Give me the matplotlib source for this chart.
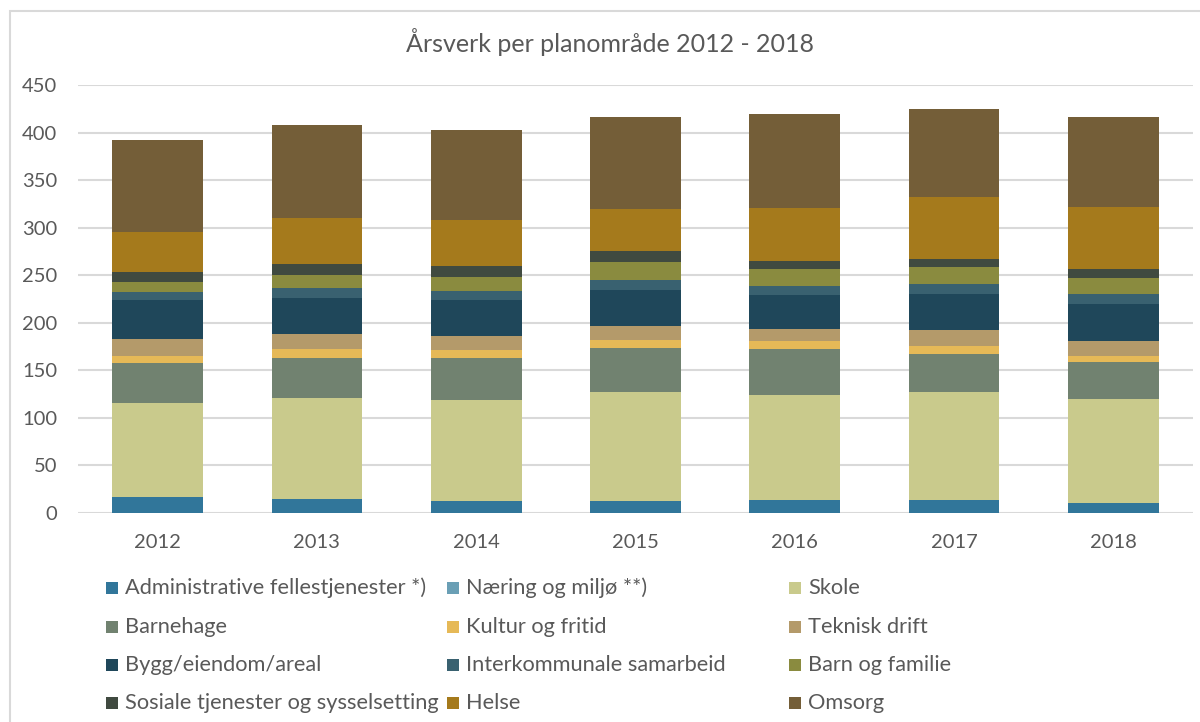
"""Årsverk per planområde 2012 - 2018, stacked bars."""

import matplotlib.pyplot as plt
from matplotlib.patches import Rectangle
import numpy as np

years = ["2012", "2013", "2014", "2015", "2016", "2017", "2018"]

labels = [
    "Administrative fellestjenester *)",
    "Næring og miljø **)",
    "Skole",
    "Barnehage",
    "Kultur og fritid",
    "Teknisk drift",
    "Bygg/eiendom/areal",
    "Interkommunale samarbeid",
    "Barn og familie",
    "Sosiale tjenester og sysselsetting",
    "Helse",
    "Omsorg",
]

admin = [16, 14, 12, 12, 13, 13, 10.5]
naering = [0, 0, 0, 0, 0, 0, 0]
skole = [99, 107, 107, 115, 110.5, 113.5, 109.5]
barnehage = [42, 42, 44, 46.5, 49, 41, 38.5]
kultur = [8, 9.5, 8.5, 8, 8, 8, 6.5]
teknisk = [17.5, 15.5, 14, 14.5, 13, 16.5, 16]
bygg = [41, 38, 38.5, 38.5, 36, 38.5, 38.5]
interkommunale = [8.5, 10.5, 9.5, 10.5, 9.5, 10.5, 10.5]
barn_familie = [10.5, 13.5, 15, 18.5, 17.5, 17.5, 16.5]
sosiale = [10.5, 12, 11.5, 12, 8, 8.5, 9.5]
helse = [42, 48, 48, 44.5, 56.5, 65.5, 65.5]
omsorg = [97, 98, 95, 96.5, 98, 92, 95]

series = [admin, naering, skole, barnehage, kultur, teknisk, bygg,
          interkommunale, barn_familie, sosiale, helse, omsorg]

colors = ["#31769A", "#6A9FB5", "#C9CA8C", "#718270", "#E6B957", "#B49A6A",
          "#1F475A", "#396170", "#8A8B3F", "#404A40", "#A57A1C", "#745E38"]

TXT = "#595959"
plt.rcParams["font.family"] = ["Lato", "DejaVu Sans"]

W, H = 1200, 722
fig = plt.figure(figsize=(W / 100, H / 100), dpi=100)

# light frame round the chart area (cropped at right and bottom)
fig.patches.append(Rectangle((10 / W, -0.1), 1.2, 1 - 11 / H + 0.1,
                             transform=fig.transFigure, fill=False,
                             edgecolor="#D9D9D9", linewidth=1.5))

ax = fig.add_axes([78 / W, 1 - 512.7 / H, (1193 - 78) / W, (512.7 - 85) / H])

x = np.arange(len(years))
bottom = np.zeros(len(years))
for vals, lab, col in zip(series, labels, colors):
    ax.bar(x, vals, width=0.57, bottom=bottom, color=col, label=lab, zorder=2)
    bottom += np.array(vals)

ax.set_xlim(-0.5, len(years) - 0.5)
ax.set_ylim(0, 450)
ax.set_yticks(range(0, 451, 50))
ax.set_xticks(x)
ax.set_xticklabels(years)
ax.yaxis.grid(True, color="#D9D9D9", linewidth=1.5, zorder=0)
ax.set_axisbelow(True)
for s in ax.spines.values():
    s.set_visible(False)
ax.tick_params(axis="both", length=0, labelsize=14.5, colors=TXT)
ax.tick_params(axis="y", pad=15)
ax.tick_params(axis="x", pad=15)

fig.text(610 / W, 1 - 42 / H, "Årsverk per planområde 2012 - 2018",
         ha="center", va="center", fontsize=18, color=TXT)

# legend, three equal columns, filled row by row
col_x = [106, 447, 789]
row_y = [588, 627, 665, 703]
sq = 12
for i, (lab, col) in enumerate(zip(labels, colors)):
    cx = col_x[i % 3]
    cy = row_y[i // 3]
    fig.patches.append(Rectangle((cx / W, 1 - (cy + sq / 2) / H), sq / W, sq / H,
                                 transform=fig.transFigure, facecolor=col,
                                 edgecolor="none"))
    fig.text((cx + 19) / W, 1 - cy / H, lab, ha="left", va="center",
             fontsize=15.7, color=TXT)

fig.savefig("out.png", dpi=100)
plt.close(fig)
